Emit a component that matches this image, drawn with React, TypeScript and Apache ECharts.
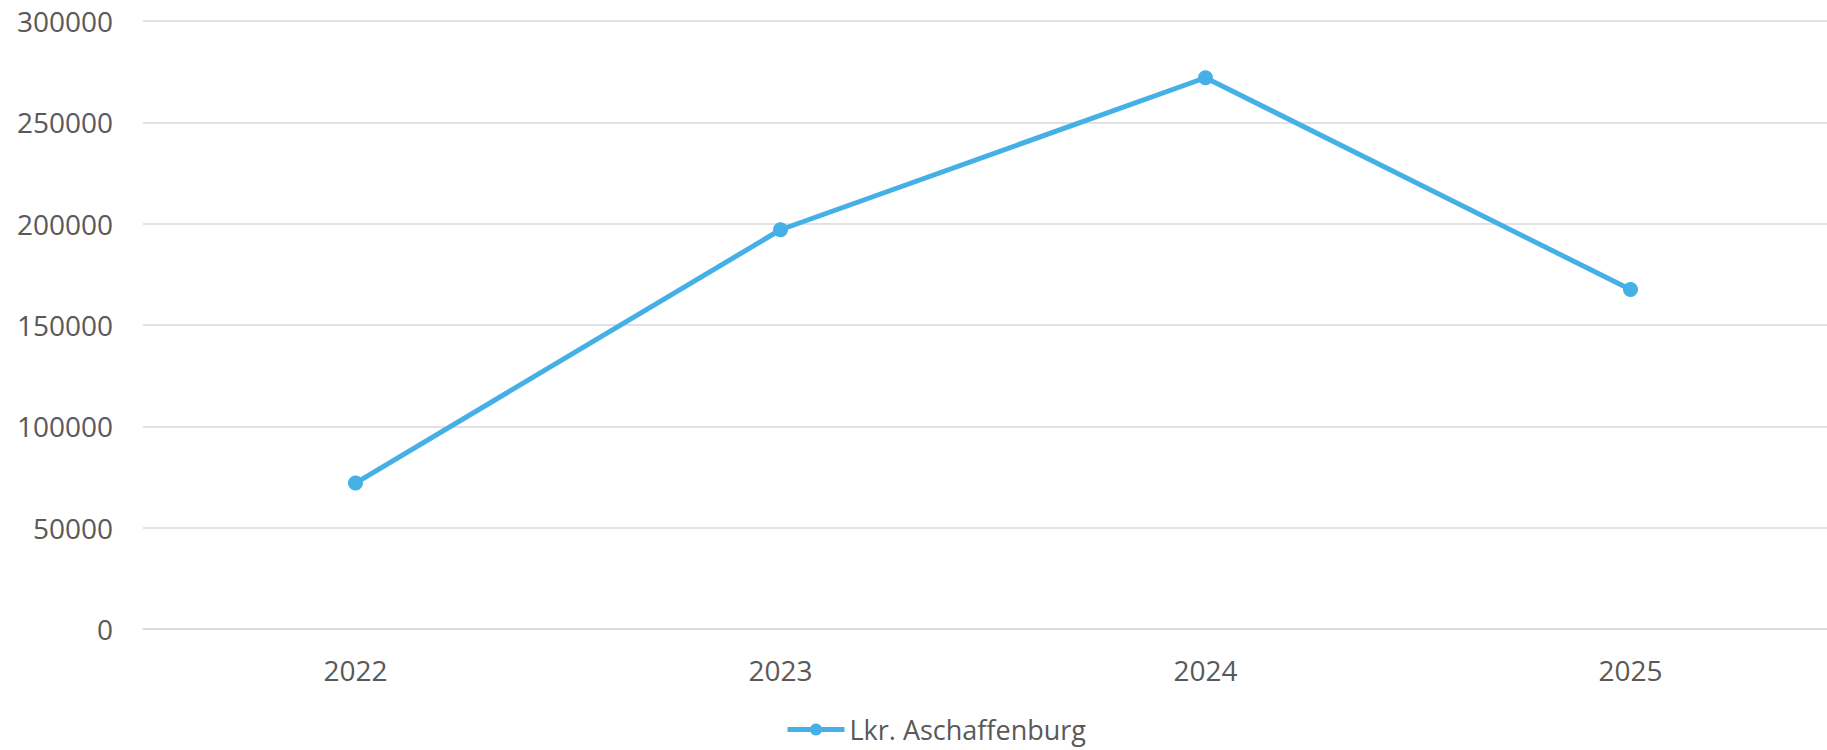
import React, { useEffect, useRef } from "react";
import * as echarts from "echarts";

const categories = ["2022", "2023", "2024", "2025"];
const seriesName = "Lkr. Aschaffenburg";
const values = [72000, 197000, 272000, 167500];
const yTicks = { min: 0, max: 300000, interval: 50000 };

export default function App() {
  const ref = useRef<HTMLDivElement>(null);
  useEffect(() => {
    if (!ref.current) return;
    const chart = echarts.init(ref.current, undefined, { renderer: "svg" });
    const font = "'Open Sans', 'Noto Sans', sans-serif";
    chart.setOption({
      animation: false,
      backgroundColor: "#ffffff",
      textStyle: { fontFamily: font },
      grid: { left: 143, top: 21, height: 608, width: 1700, containLabel: false },
      legend: {
        show: true,
        left: 785,
        top: 716,
        padding: 0,
        itemWidth: 57,
        itemHeight: 15,
        lineStyle: { width: 5 },
        textStyle: { color: "#595959", fontSize: 27, fontFamily: font },
        data: [seriesName],
      },
      xAxis: {
        type: "category",
        data: categories,
        boundaryGap: true,
        axisLine: { show: true, lineStyle: { color: "#d9d9d9", width: 1.5 } },
        axisTick: { show: false },
        axisLabel: { color: "#595959", fontSize: 28, margin: 27, fontFamily: font },
        splitLine: { show: false },
      },
      yAxis: {
        type: "value",
        min: yTicks.min,
        max: yTicks.max,
        interval: yTicks.interval,
        axisLine: { show: false },
        axisTick: { show: false },
        axisLabel: {
          color: "#595959",
          fontSize: 28,
          margin: 30,
          fontFamily: font,
          formatter: (v: number) => String(v),
        },
        splitLine: { show: true, lineStyle: { color: "#d9d9d9", width: 1.5 } },
      },
      series: [
        {
          name: seriesName,
          type: "line",
          data: values,
          symbol: "circle",
          symbolSize: 15,
          itemStyle: { color: "#45b0e6" },
          lineStyle: { color: "#45b0e6", width: 5 },
        },
      ],
    });
    return () => chart.dispose();
  }, []);
  return (
    <div
      style={{ position: "absolute", left: 0, top: 0, width: 1827, height: 750, overflow: "hidden", background: "#fff" }}
    >
      <div ref={ref} style={{ width: 1900, height: 750 }} />
    </div>
  );
}
